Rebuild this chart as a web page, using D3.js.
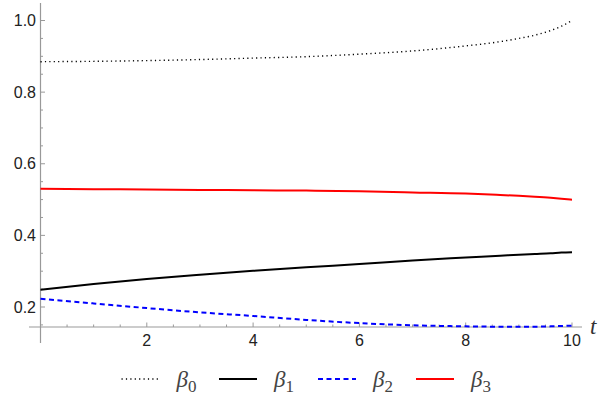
<!DOCTYPE html>
<html><head><meta charset="utf-8">
<script src="https://cdn.jsdelivr.net/npm/d3@7"></script>
<style>body{margin:0;background:#fff}</style>
</head><body>
<svg id="c" width="600" height="399"></svg>
<script>
const tVals = [0, 1, 2, 3, 4, 5, 6, 7, 8, 8.65, 9, 9.3, 9.6, 9.8, 10];
const beta0 = [0.885, 0.886, 0.888, 0.891, 0.895, 0.899, 0.906, 0.915, 0.929, 0.941, 0.950, 0.959, 0.972, 0.984, 1.0];
const beta1 = [0.248, 0.264, 0.278, 0.290, 0.301, 0.311, 0.320, 0.330, 0.338, 0.343, 0.346, 0.348, 0.350, 0.352, 0.353];
const beta2 = [0.223, 0.210, 0.197, 0.185, 0.175, 0.164, 0.155, 0.149, 0.146, 0.145, 0.145, 0.145, 0.146, 0.147, 0.148];
const beta3 = [0.530, 0.529, 0.528, 0.527, 0.526, 0.525, 0.523, 0.520, 0.517, 0.513, 0.5105, 0.508, 0.505, 0.5025, 0.4995];
const xTicks = [2, 4, 6, 8, 10];
const yTicks = [0.2, 0.4, 0.6, 0.8, 1.0];
const seriesNames = ["0", "1", "2", "3"];

const svg = d3.select("#c");
const x = d3.scaleLinear().domain([0, 10]).range([40.5, 572]);
const y = d3.scaleLinear().domain([0.2, 1.0]).range([307, 20.5]);
const axisY = 327, axisX = 40.5;
const gray = "#999";
const sans = "'Liberation Sans', Arial, sans-serif";
const serif = "'Liberation Serif', 'Times New Roman', serif";

svg.append("line").attr("x1", 29).attr("x2", 582).attr("y1", axisY).attr("y2", axisY)
  .attr("stroke", gray).attr("stroke-width", 1.2);
svg.append("line").attr("x1", axisX).attr("x2", axisX).attr("y1", 3).attr("y2", 343)
  .attr("stroke", gray).attr("stroke-width", 1.2);

const xMinor = d3.range(0, 10.01, 0.5);
svg.selectAll(".xt").data(xMinor).enter().append("line")
  .attr("x1", d => x(d)).attr("x2", d => x(d))
  .attr("y1", axisY).attr("y2", d => axisY - (d % 2 === 0 && d > 0 ? 4.5 : 2.5))
  .attr("stroke", gray).attr("stroke-width", 1);
svg.selectAll(".xl").data(xTicks).enter().append("text")
  .attr("x", d => x(d)).attr("y", 346).attr("text-anchor", "middle")
  .attr("font-family", sans).attr("font-size", 16).attr("fill", "#222")
  .text(d => d3.format("d")(d));

const yMinor = d3.range(0.15, 1.051, 0.05).filter(d => y(d) < axisY + 0.5 && y(d) > 3);
svg.selectAll(".yt").data(yMinor).enter().append("line")
  .attr("y1", d => y(d)).attr("y2", d => y(d))
  .attr("x1", axisX).attr("x2", d => axisX + (Math.abs(Math.round(d * 10) - d * 10) < 1e-6 && Math.round(d*10)%2===0 ? 4.5 : 2.5))
  .attr("stroke", gray).attr("stroke-width", 1);
svg.selectAll(".yl").data(yTicks).enter().append("text")
  .attr("x", 36).attr("y", d => y(d) + 5.6).attr("text-anchor", "end")
  .attr("font-family", sans).attr("font-size", 16).attr("fill", "#222")
  .text(d => d3.format(".1f")(d));

svg.append("text").attr("x", 590).attr("y", 334).attr("font-family", serif)
  .attr("font-style", "italic").attr("font-size", 23).attr("fill", "#333").text("t");

const styles = [
  {data: beta0, color: "#000", dash: "1.2,3.2", width: 1.4},
  {data: beta1, color: "#000", dash: null, width: 2},
  {data: beta2, color: "#0000ff", dash: "5,3.5", width: 2},
  {data: beta3, color: "#ff0000", dash: null, width: 2}
];
const line = d3.line().x(d => x(d[0])).y(d => y(d[1])).curve(d3.curveMonotoneX);
styles.forEach(s => {
  svg.append("path").datum(tVals.map((t, i) => [t, s.data[i]]))
    .attr("d", line).attr("fill", "none").attr("stroke", s.color)
    .attr("stroke-width", s.width).attr("stroke-dasharray", s.dash);
});

const legX = [121.5, 219, 318, 416];
const legY = 379;
seriesNames.forEach((n, i) => {
  const s = styles[i];
  svg.append("line").attr("x1", legX[i]).attr("x2", legX[i] + 38).attr("y1", legY).attr("y2", legY)
    .attr("stroke", s.color).attr("stroke-width", s.width).attr("stroke-dasharray", s.dash);
  const t = svg.append("text").attr("x", legX[i] + 55).attr("y", 387)
    .attr("font-family", serif).attr("font-size", 23).attr("fill", "#444");
  t.append("tspan").attr("font-style", "italic").text("β");
  t.append("tspan").attr("font-size", 17).attr("dy", 5).text(n);
});
</script>
</body></html>
